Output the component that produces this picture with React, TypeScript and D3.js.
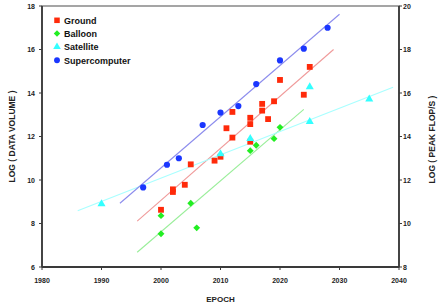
import React, {useEffect, useRef} from 'react'
import * as d3 from 'd3'

const W = 443
const H = 306
const margin = {top: 6, right: 44, bottom: 39, left: 42}

const seriesNames = ['Ground', 'Balloon', 'Satellite', 'Supercomputer']

const groundYears = [2000, 2002, 2002, 2004, 2005, 2009, 2010, 2011, 2012, 2012, 2015, 2015, 2015, 2017, 2017, 2018, 2019, 2020, 2024, 2025]
const groundValues = [8.63, 9.57, 9.45, 9.78, 10.72, 10.89, 11.07, 12.38, 13.13, 11.95, 12.86, 12.57, 11.76, 13.5, 13.19, 12.8, 13.62, 14.6, 13.92, 15.2]

const balloonYears = [2000, 2000, 2005, 2006, 2015, 2016, 2019, 2020]
const balloonValues = [8.36, 7.53, 8.93, 7.8, 11.35, 11.6, 11.9, 12.42]

const satelliteYears = [1990, 2010, 2015, 2025, 2025, 2035]
const satelliteValues = [8.9, 11.2, 11.9, 14.28, 12.68, 13.72]

const superYears = [1997, 2001, 2003, 2007, 2010, 2013, 2016, 2020, 2024, 2028]
const superValues = [9.66, 10.7, 11.0, 12.53, 13.1, 13.4, 14.41, 15.5, 16.04, 17.0]

// fit lines: [startYear, startValue, endYear, endValue]
const groundFit = [1996, 8.11, 2029, 16.0]
const balloonFit = [1996, 6.68, 2024, 13.25]
const satelliteFit = [1986, 8.59, 2039, 14.26]
const superFit = [1993.1, 8.93, 2030, 17.62]

const xTicks = [1980, 1990, 2000, 2010, 2020, 2030, 2040]
const leftTicks = [6, 8, 10, 12, 14, 16, 18]
const rightTicks = [8, 10, 12, 14, 16, 18, 20]

const colors = ['#ff2a0a', '#22ee22', '#33ffff', '#1a36ff']
const lineColors = ['#f09a9a', '#99ee99', '#a8ffff', '#8c8ced']
const symbols = [d3.symbolSquare, d3.symbolDiamond2, d3.symbolTriangle, d3.symbolCircle]
const symbolSizes = [34, 30, 28, 30]

const font = 'Liberation Sans, Arial, sans-serif'
const axisColor = '#3a3a3a'

const App = () => {
  const ref = useRef<SVGSVGElement>(null)

  useEffect(() => {
    const svg = d3.select(ref.current)
    svg.selectAll('*').remove()

    const x = d3.scaleLinear().domain([1980, 2040]).range([margin.left, W - margin.right])
    const y = d3.scaleLinear().domain([6, 18]).range([H - margin.bottom, margin.top])
    const y2 = d3.scaleLinear().domain([8, 20]).range([H - margin.bottom, margin.top])

    const data = [
      [groundYears, groundValues],
      [balloonYears, balloonValues],
      [satelliteYears, satelliteValues],
      [superYears, superValues],
    ]
    const fits = [groundFit, balloonFit, satelliteFit, superFit]

    // fit lines
    fits.forEach((f, i) => {
      svg.append('line')
        .attr('x1', x(f[0])).attr('y1', y(f[1]))
        .attr('x2', x(f[2])).attr('y2', y(f[3]))
        .attr('stroke', lineColors[i])
        .attr('stroke-width', 1.1)
    })

    // points
    data.forEach((d, i) => {
      const sym = d3.symbol().type(symbols[i]).size(symbolSizes[i])
      svg.append('g').selectAll('path')
        .data(d[0].map((yr, j) => [yr, d[1][j]]))
        .enter()
        .append('path')
        .attr('d', sym as any)
        .attr('transform', p => 'translate(' + x(p[0]) + ',' + y(p[1]) + ')')
        .attr('fill', colors[i])
    })

    // frame
    const x0 = x(1980), x1 = x(2040), yb = y(6), yt = y(18)
    svg.append('rect')
      .attr('x', x0).attr('y', yt)
      .attr('width', x1 - x0).attr('height', yb - yt)
      .attr('fill', 'none')
      .attr('stroke', '#6a6a6a').attr('stroke-width', 1.2)

    const axisLine = (ax1: number, ay1: number, ax2: number, ay2: number) =>
      svg.append('line')
        .attr('x1', ax1).attr('y1', ay1).attr('x2', ax2).attr('y2', ay2)
        .attr('stroke', axisColor).attr('stroke-width', 1.8)
    axisLine(x0, yt, x0, yb)
    axisLine(x1, yt, x1, yb)
    axisLine(x0, yb, x1, yb)

    // bottom ticks
    xTicks.forEach(t => {
      svg.append('line')
        .attr('x1', x(t)).attr('x2', x(t))
        .attr('y1', yb).attr('y2', yb + 3)
        .attr('stroke', axisColor).attr('stroke-width', 1)
      svg.append('text')
        .attr('x', x(t)).attr('y', yb + 16)
        .attr('text-anchor', 'middle')
        .attr('font-family', font).attr('font-size', 7).attr('font-weight', 'bold')
        .attr('fill', '#222')
        .text(t)
    })

    leftTicks.forEach(t => {
      svg.append('line')
        .attr('x1', x0 - 3).attr('x2', x0)
        .attr('y1', y(t)).attr('y2', y(t))
        .attr('stroke', axisColor).attr('stroke-width', 1)
      svg.append('text')
        .attr('x', x0 - 7).attr('y', y(t) + 2.5)
        .attr('text-anchor', 'end')
        .attr('font-family', font).attr('font-size', 7).attr('font-weight', 'bold')
        .attr('fill', '#222')
        .text(t)
    })

    rightTicks.forEach(t => {
      svg.append('line')
        .attr('x1', x1).attr('x2', x1 + 3)
        .attr('y1', y2(t)).attr('y2', y2(t))
        .attr('stroke', axisColor).attr('stroke-width', 1)
      svg.append('text')
        .attr('x', x1 + 4).attr('y', y2(t) + 2.5)
        .attr('text-anchor', 'start')
        .attr('font-family', font).attr('font-size', 7).attr('font-weight', 'bold')
        .attr('fill', '#222')
        .text(t)
    })

    // axis titles
    svg.append('text')
      .attr('transform', 'translate(15,' + (yt + yb) / 2 + ') rotate(-90)')
      .attr('text-anchor', 'middle')
      .attr('font-family', font).attr('font-size', 8.5).attr('font-weight', 'bold')
      .attr('fill', '#222')
      .text('LOG ( DATA  VOLUME )')

    svg.append('text')
      .attr('transform', 'translate(435,' + ((yt + yb) / 2 + 3) + ') rotate(-90)')
      .attr('text-anchor', 'middle')
      .attr('font-family', font).attr('font-size', 8.5).attr('font-weight', 'bold')
      .attr('fill', '#222')
      .text('LOG ( PEAK  FLOP/S )')

    svg.append('text')
      .attr('x', (x0 + x1) / 2).attr('y', 302)
      .attr('text-anchor', 'middle')
      .attr('font-family', font).attr('font-size', 8).attr('font-weight', 'bold')
      .attr('fill', '#222')
      .text('EPOCH')

    // legend
    seriesNames.forEach((name, i) => {
      const ly = 20.3 + i * 13.3
      svg.append('path')
        .attr('d', d3.symbol().type(symbols[i]).size(symbolSizes[i] * 0.9) as any)
        .attr('transform', 'translate(57,' + ly + ')')
        .attr('fill', colors[i])
      svg.append('text')
        .attr('x', 64).attr('y', ly + 3.3)
        .attr('font-family', font).attr('font-size', 9).attr('font-weight', 'bold')
        .attr('fill', '#111')
        .text(name)
    })
  }, [])

  return (
    <svg ref={ref} width={W} height={H}
      style={{position: 'absolute', left: 0, top: 0, background: 'white'}} />
  )
}

export default App
